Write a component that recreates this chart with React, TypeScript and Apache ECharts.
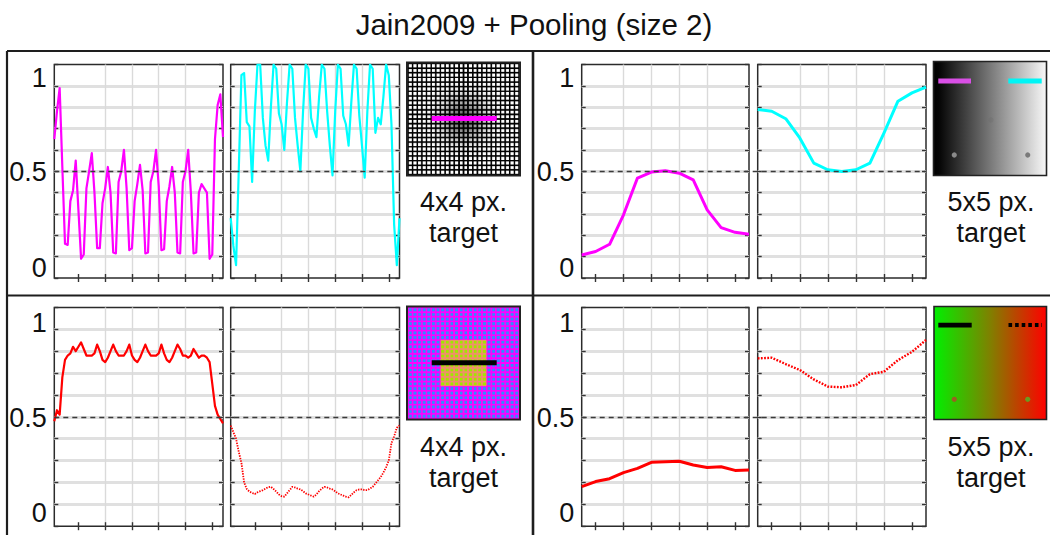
import React, { useEffect, useRef } from "react";
import * as echarts from "echarts";

const FONT = '"Liberation Sans", Arial, Helvetica, sans-serif';
const TITLE = "Jain2009 + Pooling (size 2)";
const Y_LABELS = ["1", "0.5", "0"];
const TARGET_TEXT_LEFT = ["4x4 px.", "target"];
const TARGET_TEXT_RIGHT = ["5x5 px.", "target"];

// pixel positions along the probed row
const PIXELS_64 = [
  1, 2, 3, 4, 5, 6, 7, 8, 9, 10, 11, 12, 13, 14, 15, 16, 17, 18, 19, 20, 21, 22, 23, 24, 25, 26, 27, 28, 29, 30, 31, 32,
  33, 34, 35, 36, 37, 38, 39, 40, 41, 42, 43, 44, 45, 46, 47, 48, 49, 50, 51, 52, 53, 54, 55, 56, 57, 58, 59, 60, 61, 62,
  63, 64,
];
const PIXELS_13 = [1, 2, 3, 4, 5, 6, 7, 8, 9, 10, 11, 12, 13];
const TICKS_64 = [10, 20, 30, 40, 50, 60];
const TICKS_13 = [2, 4, 6, 8, 10, 12];

// top-left: 4x4 px grey target, magenta (left) and cyan (right) probes
const topLeftMagenta = [
  0.65, 0.78, 0.89, 0.52, 0.16, 0.155, 0.36, 0.41, 0.55, 0.32, 0.09, 0.11, 0.42, 0.5, 0.585, 0.4, 0.14, 0.14, 0.35, 0.42,
  0.52, 0.4, 0.12, 0.115, 0.45, 0.5, 0.6, 0.42, 0.13, 0.14, 0.36, 0.44, 0.53, 0.41, 0.115, 0.12, 0.45, 0.5, 0.6, 0.43,
  0.13, 0.135, 0.36, 0.43, 0.52, 0.4, 0.12, 0.115, 0.45, 0.5, 0.6, 0.4, 0.115, 0.12, 0.4, 0.44, 0.42, 0.4, 0.09, 0.11,
  0.65, 0.81, 0.86, 0.66,
];
const topLeftCyan = [
  0.28, 0.15, 0.06, 0.5, 0.95, 0.96, 0.73, 0.71, 0.45, 0.78, 1.0, 1.0, 0.75, 0.62, 0.55, 0.8, 1.0, 0.98, 0.77, 0.72, 0.6,
  0.82, 1.0, 0.98, 0.75, 0.62, 0.5, 0.78, 1.0, 0.98, 0.75, 0.7, 0.66, 0.85, 1.0, 0.98, 0.78, 0.62, 0.48, 0.78, 1.0, 0.98,
  0.76, 0.72, 0.62, 0.82, 1.0, 0.98, 0.76, 0.62, 0.47, 0.78, 1.0, 0.98, 0.68, 0.75, 0.72, 0.85, 1.0, 0.95, 0.72, 0.25,
  0.06, 0.28,
];
// top-right: 5x5 px gradient target
const topRightMagenta = [0.108, 0.124, 0.158, 0.296, 0.468, 0.496, 0.502, 0.491, 0.46, 0.319, 0.236, 0.214, 0.205];
const topRightCyan = [0.789, 0.781, 0.746, 0.656, 0.538, 0.507, 0.499, 0.507, 0.538, 0.679, 0.828, 0.867, 0.894];
// bottom-left: 4x4 px colour target, solid and dotted red
const bottomLeftRed = [
  0.48, 0.53, 0.51, 0.68, 0.76, 0.78, 0.79, 0.82, 0.8, 0.82, 0.84, 0.81, 0.78, 0.78, 0.78, 0.79, 0.83, 0.8, 0.76, 0.75,
  0.77, 0.8, 0.83, 0.8, 0.78, 0.78, 0.78, 0.8, 0.83, 0.78, 0.76, 0.75, 0.77, 0.8, 0.83, 0.8, 0.78, 0.78, 0.78, 0.79, 0.83,
  0.79, 0.76, 0.75, 0.77, 0.8, 0.83, 0.81, 0.78, 0.78, 0.77, 0.78, 0.81, 0.79, 0.77, 0.78, 0.78, 0.77, 0.75, 0.65, 0.55,
  0.51, 0.49, 0.47,
];
const bottomLeftRedDotted = [
  0.46, 0.43, 0.4, 0.34, 0.29, 0.2, 0.17, 0.158, 0.152, 0.147, 0.155, 0.16, 0.165, 0.172, 0.178, 0.18, 0.17, 0.158, 0.145,
  0.137, 0.135, 0.15, 0.165, 0.18, 0.177, 0.172, 0.168, 0.16, 0.15, 0.145, 0.14, 0.135, 0.145, 0.16, 0.172, 0.18, 0.177,
  0.172, 0.168, 0.16, 0.15, 0.145, 0.14, 0.135, 0.132, 0.143, 0.155, 0.165, 0.168, 0.168, 0.165, 0.165, 0.172, 0.18,
  0.195, 0.21, 0.225, 0.245, 0.27, 0.3, 0.38, 0.41, 0.45, 0.46,
];
// bottom-right: 5x5 px green-red target
const bottomRightRed = [0.181, 0.204, 0.217, 0.245, 0.264, 0.292, 0.295, 0.297, 0.28, 0.268, 0.272, 0.255, 0.257];
const bottomRightRedDotted = [0.767, 0.77, 0.741, 0.714, 0.671, 0.638, 0.635, 0.645, 0.695, 0.706, 0.759, 0.797, 0.851];

const MAGENTA = "#ff00ff";
const CYAN = "#00ffff";
const RED = "#ff0000";

// layout (pixels)
const COL_LEFT = [54.3, 230.7, 581.7, 757.7];
const COL_WIDTH = [168.7, 168.8, 167.3, 168.3];
const ROW_TOP = [64.5, 307.4];
const ROW_HEIGHT = [213.5, 218.8];
const LABEL_Y = [
  [78, 172, 268],
  [323, 418, 513],
];

const PLOTS = [
  { row: 0, col: 0, x: PIXELS_64, ticks: TICKS_64, y: topLeftMagenta, color: MAGENTA, width: 2.2, dash: "solid" as any },
  { row: 0, col: 1, x: PIXELS_64, ticks: TICKS_64, y: topLeftCyan, color: CYAN, width: 2.2, dash: "solid" as any },
  { row: 0, col: 2, x: PIXELS_13, ticks: TICKS_13, y: topRightMagenta, color: MAGENTA, width: 3, dash: "solid" as any },
  { row: 0, col: 3, x: PIXELS_13, ticks: TICKS_13, y: topRightCyan, color: CYAN, width: 3, dash: "solid" as any },
  { row: 1, col: 0, x: PIXELS_64, ticks: TICKS_64, y: bottomLeftRed, color: RED, width: 2.2, dash: "solid" as any },
  { row: 1, col: 1, x: PIXELS_64, ticks: TICKS_64, y: bottomLeftRedDotted, color: RED, width: 1.8, dash: [1.4, 1.2] as any },
  { row: 1, col: 2, x: PIXELS_13, ticks: TICKS_13, y: bottomRightRed, color: RED, width: 3, dash: "solid" as any },
  { row: 1, col: 3, x: PIXELS_13, ticks: TICKS_13, y: bottomRightRedDotted, color: RED, width: 2.4, dash: [1.8, 1.4] as any },
];

function makeTargetImage(kind: "gray" | "color", size: number): string {
  const scale = 3;
  const c = document.createElement("canvas");
  c.width = size * scale;
  c.height = size * scale;
  const ctx = c.getContext("2d")!;
  ctx.scale(scale, scale);
  const n = 24;
  const pad = 2;
  const cell = (size - 2 * pad) / n;
  ctx.fillStyle = kind === "gray" ? "#000000" : "#ff00ff";
  ctx.fillRect(0, 0, size, size);
  if (kind === "color") {
    ctx.fillStyle = "#f0906a";
    ctx.fillRect(pad + 7 * cell, pad + 7 * cell, 10 * cell, 10 * cell);
  }
  const c0 = size / 2;
  for (let r = 0; r < n; r++) {
    for (let k = 0; k < n; k++) {
      const cx = pad + (k + 0.5) * cell;
      const cy = pad + (r + 0.5) * cell;
      let sq = cell * 0.66;
      if (kind === "gray") {
        const d2 = (cx - c0) * (cx - c0) + (cy - c0) * (cy - c0);
        const dark = 0.6 * Math.exp(-d2 / (2 * 15 * 15));
        const v = Math.round(255 * (1 - dark));
        ctx.fillStyle = `rgb(${v},${v},${v})`;
      } else {
        const inside = r >= 7 && r <= 16 && k >= 7 && k <= 16;
        ctx.fillStyle = inside ? "#9ee800" : "#2f8cff";
        sq = cell * (inside ? 0.62 : 0.62);
      }
      ctx.fillRect(cx - sq / 2, cy - sq / 2, sq, sq);
    }
  }
  ctx.strokeStyle = "#222222";
  ctx.lineWidth = 2;
  ctx.strokeRect(1, 1, size - 2, size - 2);
  return c.toDataURL();
}

function buildOption(imgGray: string, imgColor: string) {
  const grid: any[] = [];
  const xAxis: any[] = [];
  const yAxis: any[] = [];
  const series: any[] = [];

  PLOTS.forEach((p, k) => {
    grid.push({
      left: COL_LEFT[p.col],
      top: ROW_TOP[p.row],
      width: COL_WIDTH[p.col],
      height: ROW_HEIGHT[p.row],
      show: true,
      backgroundColor: "#ffffff",
      borderColor: "#2b2b2b",
      borderWidth: 1.5,
    });
    const n = p.x.length;
    const tickCommon = {
      show: true,
      inside: true,
      length: 4,
      lineStyle: { color: "#333333", width: 1.4 },
    };
    xAxis.push({
      gridIndex: k,
      type: "value",
      position: "bottom",
      min: 1,
      max: n,
      axisLine: { show: false },
      axisTick: { ...tickCommon, customValues: p.ticks },
      axisLabel: { show: false },
      splitLine: {
        show: true,
        showMinLine: false,
        showMaxLine: false,
        lineStyle: { color: "#dadada", width: 1.4 },
      },
    });
    xAxis.push({
      gridIndex: k,
      type: "value",
      position: "top",
      min: 1,
      max: n,
      axisLine: { show: false },
      axisTick: { ...tickCommon, customValues: p.ticks },
      axisLabel: { show: false },
      splitLine: { show: false },
    });
    yAxis.push({
      gridIndex: k,
      type: "value",
      position: "left",
      min: 0,
      max: 1,
      interval: 0.1,
      axisLine: { show: false },
      axisTick: tickCommon,
      axisLabel: { show: false },
      splitLine: {
        show: true,
        showMinLine: false,
        showMaxLine: false,
        lineStyle: { color: "#e0e0e0", width: 3 },
      },
    });
    yAxis.push({
      gridIndex: k,
      type: "value",
      position: "right",
      min: 0,
      max: 1,
      interval: 0.1,
      axisLine: { show: false },
      axisTick: tickCommon,
      axisLabel: { show: false },
      splitLine: { show: false },
    });
    series.push({
      type: "line",
      xAxisIndex: 2 * k,
      yAxisIndex: 2 * k,
      data: p.x.map((xv, i) => [xv, p.y[i]]),
      showSymbol: false,
      symbol: "none",
      z: 3,
      lineStyle: { color: p.color, width: p.width, type: p.dash, cap: "butt", join: "round" },
      clip: true,
    });
  });

  // overlay grids for the dashed 0.5 reference line spanning each panel
  let ax = PLOTS.length * 2;
  for (let row = 0; row < 2; row++) {
    for (let side = 0; side < 2; side++) {
      const l = COL_LEFT[2 * side];
      const r = COL_LEFT[2 * side + 1] + COL_WIDTH[2 * side + 1];
      const gi = grid.length;
      grid.push({ left: l, top: ROW_TOP[row], width: r - l, height: ROW_HEIGHT[row], show: false });
      xAxis.push({ gridIndex: gi, type: "value", min: 0, max: 1, show: false });
      yAxis.push({ gridIndex: gi, type: "value", min: 0, max: 1, show: false });
      series.push({
        type: "line",
        xAxisIndex: ax,
        yAxisIndex: ax,
        data: [],
        z: 2,
        markLine: {
          silent: true,
          symbol: "none",
          label: { show: false },
          lineStyle: { color: "#3a3a3a", type: [5, 4], width: 1.4 },
          data: [{ yAxis: 0.5 }],
        },
      });
      ax++;
    }
  }

  const graphic: any[] = [];
  const textStyle = (text: string, x: number, y: number, size: number, align: string) => ({
    type: "text",
    x,
    y,
    z: 20,
    style: {
      text,
      fill: "#111111",
      font: `${size}px ${FONT}`,
      align,
      verticalAlign: "middle",
    },
  });

  // frame
  const frameStyle = { stroke: "#1e1e1e", lineWidth: 2.2 };
  graphic.push({ type: "line", z: 15, shape: { x1: 7, y1: 51, x2: 1050, y2: 51 }, style: frameStyle });
  graphic.push({ type: "line", z: 15, shape: { x1: 7, y1: 295.5, x2: 1050, y2: 295.5 }, style: frameStyle });
  graphic.push({ type: "line", z: 15, shape: { x1: 7, y1: 51, x2: 7, y2: 535 }, style: frameStyle });
  graphic.push({ type: "line", z: 15, shape: { x1: 533, y1: 51, x2: 533, y2: 535 }, style: { ...frameStyle, lineWidth: 2.6 } });

  graphic.push(textStyle(TITLE, 534, 24, 29.5, "center"));

  for (let row = 0; row < 2; row++) {
    for (let side = 0; side < 2; side++) {
      const rx = COL_LEFT[2 * side] - 7.5;
      Y_LABELS.forEach((t, i) => graphic.push(textStyle(t, rx, LABEL_Y[row][i], 27, "right")));
    }
  }
  const targetY = [
    [202, 233],
    [447, 478],
  ];
  for (let row = 0; row < 2; row++) {
    TARGET_TEXT_LEFT.forEach((t, i) => graphic.push(textStyle(t, 463.5, targetY[row][i], 27, "center")));
    TARGET_TEXT_RIGHT.forEach((t, i) => graphic.push(textStyle(t, 991, targetY[row][i], 27, "center")));
  }

  // target thumbnails (left panels)
  graphic.push({ type: "image", x: 406, y: 61.5, z: 12, style: { image: imgGray, width: 115, height: 115 } });
  graphic.push({ type: "rect", z: 13, shape: { x: 431.7, y: 116, width: 65, height: 5 }, style: { fill: MAGENTA } });
  graphic.push({ type: "image", x: 406, y: 305.5, z: 12, style: { image: imgColor, width: 115, height: 115 } });
  graphic.push({ type: "rect", z: 13, shape: { x: 431.7, y: 360.3, width: 65, height: 5 }, style: { fill: "#000000" } });

  // target thumbnails (right panels)
  graphic.push({
    type: "rect",
    z: 12,
    shape: { x: 933.5, y: 61.5, width: 113, height: 114 },
    style: {
      fill: new echarts.graphic.LinearGradient(0, 0, 1, 0, [
        { offset: 0, color: "#000000" },
        { offset: 0.05, color: "#050505" },
        { offset: 1, color: "#f8f8f8" },
      ]),
      stroke: "#222222",
      lineWidth: 1.6,
    },
  });
  [
    [954.3, 155, "#8a8a8a"],
    [1027.7, 155, "#7a7a7a"],
    [991, 120, "#6e6e6e"],
  ].forEach(([cx, cy, col]) =>
    graphic.push({ type: "circle", z: 13, shape: { cx, cy, r: 2.6 }, style: { fill: col as string, opacity: cx === 991 ? 0.35 : 1 } })
  );
  graphic.push({ type: "rect", z: 13, shape: { x: 938.3, y: 78.5, width: 32.7, height: 5 }, style: { fill: "#d94fe6" } });
  graphic.push({ type: "rect", z: 13, shape: { x: 1008.3, y: 78.5, width: 33.4, height: 5 }, style: { fill: "#00f5f5" } });

  graphic.push({
    type: "rect",
    z: 12,
    shape: { x: 934, y: 306.5, width: 112.5, height: 113 },
    style: {
      fill: new echarts.graphic.LinearGradient(0, 0, 1, 0, [
        { offset: 0, color: "#00f000" },
        { offset: 0.5, color: "#808000" },
        { offset: 1, color: "#ff0000" },
      ]),
      stroke: "#222222",
      lineWidth: 1.6,
    },
  });
  [
    [954.3, 399.3, "#9a6020"],
    [1027.7, 399.3, "#6a9a20"],
  ].forEach(([cx, cy, col]) =>
    graphic.push({ type: "circle", z: 13, shape: { cx, cy, r: 2.6 }, style: { fill: col as string } })
  );
  graphic.push({ type: "rect", z: 13, shape: { x: 938.3, y: 322.7, width: 33.4, height: 4.8 }, style: { fill: "#000000" } });
  graphic.push({
    type: "line",
    z: 13,
    shape: { x1: 1008.5, y1: 325, x2: 1042, y2: 325 },
    style: { stroke: "#000000", lineWidth: 4.2, lineDash: [3.6, 3] },
  });

  return {
    animation: false,
    backgroundColor: "#ffffff",
    grid,
    xAxis,
    yAxis,
    series,
    graphic,
  };
}

export default function App() {
  const ref = useRef<HTMLDivElement>(null);
  useEffect(() => {
    if (!ref.current) return;
    const chart = echarts.init(ref.current, undefined, { renderer: "svg" });
    const imgGray = makeTargetImage("gray", 115);
    const imgColor = makeTargetImage("color", 115);
    chart.setOption(buildOption(imgGray, imgColor) as any);
    return () => chart.dispose();
  }, []);
  return (
    <div
      ref={ref}
      style={{ position: "absolute", left: 0, top: 0, width: 1050, height: 535, background: "#ffffff" }}
    />
  );
}
